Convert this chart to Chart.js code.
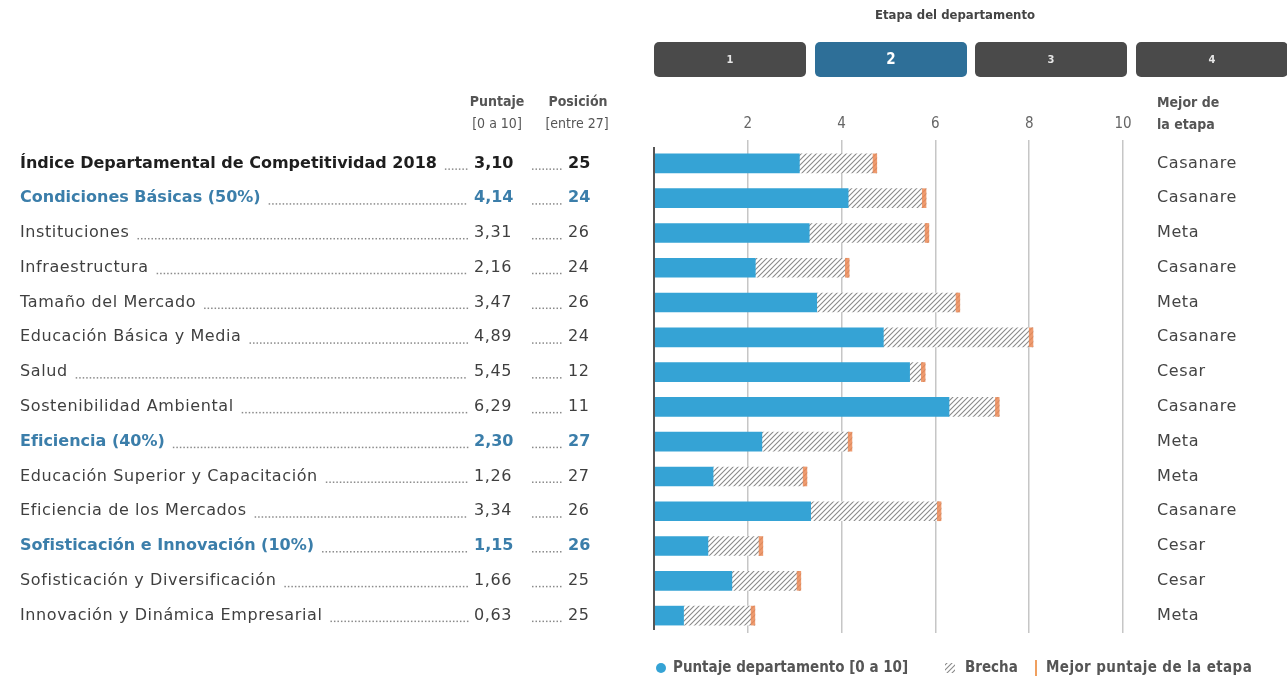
<!DOCTYPE html>
<html lang="es">
<head>
<meta charset="utf-8">
<title>Índice Departamental de Competitividad 2018</title>
<script src="https://cdn.jsdelivr.net/npm/chart.js@4.4.1/dist/chart.umd.min.js"></script>
<style>
  html, body { margin: 0; padding: 0; background: #fff; }
  #chartContainer { position: relative; width: 1287px; height: 685px; }
</style>
</head>
<body>
<div id="chartContainer"><canvas id="competitivenessChart"></canvas></div>
<script>
// Data
const pillarLabels = [
  'Índice Departamental de Competitividad 2018',
  'Condiciones Básicas (50%)',
  'Instituciones',
  'Infraestructura',
  'Tamaño del Mercado',
  'Educación Básica y Media',
  'Salud',
  'Sostenibilidad Ambiental',
  'Eficiencia (40%)',
  'Educación Superior y Capacitación',
  'Eficiencia de los Mercados',
  'Sofisticación e Innovación (10%)',
  'Sofisticación y Diversificación',
  'Innovación y Dinámica Empresarial'
];
const rowKind = ['index', 'pillar', 'sub', 'sub', 'sub', 'sub', 'sub', 'sub', 'pillar', 'sub', 'sub', 'pillar', 'sub', 'sub'];
const scores = [3.10, 4.14, 3.31, 2.16, 3.47, 4.89, 5.45, 6.29, 2.30, 1.26, 3.34, 1.15, 1.66, 0.63];
const ranks = [25, 24, 26, 24, 26, 24, 12, 11, 27, 27, 26, 26, 25, 25];
const bestScores = [4.75, 5.80, 5.86, 4.16, 6.52, 8.08, 5.78, 7.36, 4.22, 3.26, 6.12, 2.32, 3.13, 2.15];
const bestDept = ['Casanare', 'Casanare', 'Meta', 'Casanare', 'Meta', 'Casanare', 'Cesar', 'Casanare', 'Meta', 'Meta', 'Casanare', 'Cesar', 'Cesar', 'Meta'];
const stages = ['1', '2', '3', '4'];
const currentStage = '2';

const FONT = '"DejaVu Sans", sans-serif';
const FONT_COND = '"DejaVu Sans Condensed", "DejaVu Sans", sans-serif';
const BLUE = '#35a3d5';
const DARK_BLUE = '#3b7eaa';
const ORANGE = 'rgba(236, 138, 86, 0.85)';

function makeHatch() {
  const c = document.createElement('canvas');
  c.width = 5; c.height = 5;
  const g = c.getContext('2d');
  g.fillStyle = '#fff';
  g.fillRect(0, 0, 5, 5);
  g.strokeStyle = '#8a8a8a';
  g.lineWidth = 1.1;
  g.beginPath();
  g.moveTo(0, 5); g.lineTo(5, 0);
  g.moveTo(-1, 1); g.lineTo(1, -1);
  g.moveTo(4, 6); g.lineTo(6, 4);
  g.stroke();
  return g.createPattern(c, 'repeat');
}

function fmt(v) {
  return v.toFixed(2).replace('.', ',');
}

function dots(ctx, x0, x1, y, color) {
  ctx.fillStyle = color;
  for (let px = x0; px < x1; px += 3.5) ctx.fillRect(px, y, 1.5, 1.5);
}

const hatch = makeHatch();

// Everything that is not a bar: headers, table columns, stage buttons, legend
const decorPlugin = {
  id: 'decor',
  afterDatasetsDraw(chart) {
    const { ctx, chartArea, scales: { x } } = chart;
    const x0 = x.getPixelForValue(0);
    ctx.save();
    ctx.strokeStyle = '#555';
    ctx.lineWidth = 2;
    ctx.beginPath();
    ctx.moveTo(x0, chartArea.top + 1);
    ctx.lineTo(x0, chartArea.bottom - 3);
    ctx.stroke();
    ctx.restore();
  },
  afterDraw(chart) {
    const { ctx, scales: { y } } = chart;
    ctx.save();
    ctx.textBaseline = 'middle';

    // stage selector
    ctx.font = 'bold 13px ' + FONT_COND;
    ctx.fillStyle = '#444';
    ctx.textAlign = 'center';
    ctx.fillText('Etapa del departamento', 955, 16);
    const btnX = [654, 815, 975, 1136];
    stages.forEach((s, i) => {
      const active = s === currentStage;
      ctx.fillStyle = active ? '#2e6f98' : '#4a4a4a';
      ctx.beginPath();
      ctx.roundRect(btnX[i], 42, 152, 35, 5);
      ctx.fill();
      ctx.fillStyle = active ? '#fff' : '#e6e6e6';
      ctx.font = (active ? 'bold 15px ' : 'bold 11px ') + FONT_COND;
      ctx.fillText(s, btnX[i] + 76, 60);
    });

    // column headers
    ctx.fillStyle = '#555';
    ctx.font = 'bold 14px ' + FONT_COND;
    ctx.fillText('Puntaje', 497, 102);
    ctx.fillText('Posición', 578, 102);
    ctx.font = '14px ' + FONT_COND;
    ctx.fillText('[0 a 10]', 497, 124);
    ctx.fillText('[entre 27]', 577, 124);
    ctx.textAlign = 'left';
    ctx.font = 'bold 14px ' + FONT_COND;
    ctx.fillText('Mejor de', 1157, 103);
    ctx.fillText('la etapa', 1157, 125);

    // rows
    pillarLabels.forEach((label, i) => {
      const yy = y.getPixelForValue(i);
      const kind = rowKind[i];
      const color = kind === 'index' ? '#1e1e1e' : kind === 'pillar' ? DARK_BLUE : '#3f3f3f';
      if (kind === 'sub') {
        ctx.font = '16px ' + FONT;
        ctx.letterSpacing = '0.6px';
      } else {
        ctx.font = 'bold 16px ' + FONT;
        ctx.letterSpacing = '0px';
      }
      ctx.fillStyle = color;
      ctx.textAlign = 'left';
      ctx.fillText(label, 20, yy);
      const w = ctx.measureText(label).width;
      dots(ctx, 20 + w + 8, 467, yy + 5, '#8a8a8a');
      ctx.fillStyle = color;
      ctx.fillText(fmt(scores[i]), 474, yy);
      dots(ctx, 532, 563, yy + 5, '#8a8a8a');
      ctx.fillStyle = color;
      ctx.fillText(String(ranks[i]), 568, yy);
      ctx.font = '16px ' + FONT;
      ctx.letterSpacing = '0.6px';
      ctx.fillStyle = '#444';
      ctx.fillText(bestDept[i], 1157, yy);
    });
    ctx.letterSpacing = '0px';

    // legend
    const ly = 668;
    ctx.font = 'bold 15px ' + FONT_COND;
    ctx.fillStyle = BLUE;
    ctx.beginPath();
    ctx.arc(661, ly, 5, 0, Math.PI * 2);
    ctx.fill();
    ctx.fillStyle = '#555';
    ctx.fillText('Puntaje departamento [0 a 10]', 673, ly);
    ctx.fillStyle = hatch;
    ctx.fillRect(945, ly - 5, 10, 10);
    ctx.fillStyle = '#555';
    ctx.fillText('Brecha', 965, ly);
    ctx.strokeStyle = '#f0a060';
    ctx.lineWidth = 2;
    ctx.beginPath();
    ctx.moveTo(1036, ly - 8);
    ctx.lineTo(1036, ly + 8);
    ctx.stroke();
    ctx.letterSpacing = '0.4px';
    ctx.fillText('Mejor puntaje de la etapa', 1046, ly);
    ctx.restore();
  }
};

let competitivenessChart;

window.onload = function() {
  initializeChart();
};

function initializeChart() {
  const ctx = document.getElementById('competitivenessChart').getContext('2d');
  competitivenessChart = new Chart(ctx, {
    type: 'bar',
    data: {
      labels: pillarLabels,
      datasets: [
        {
          label: 'Mejor puntaje de la etapa',
          data: bestScores.map(v => [v - 0.08, v]),
          backgroundColor: ORANGE,
          grouped: false,
          barThickness: 19
        },
        {
          label: 'Puntaje departamento [0 a 10]',
          data: scores.map(v => [0, v]),
          backgroundColor: BLUE,
          grouped: false,
          barThickness: 19
        },
        {
          label: 'Brecha',
          data: scores.map((v, i) => [v, bestScores[i]]),
          backgroundColor: hatch,
          grouped: false,
          barThickness: 19
        }
      ]
    },
    options: {
      indexAxis: 'y',
      responsive: true,
      maintainAspectRatio: false,
      animation: false,
      layout: { padding: { left: 654, right: 164, top: 0, bottom: 52 } },
      plugins: {
        legend: { display: false },
        tooltip: { enabled: false }
      },
      scales: {
        x: {
          position: 'top',
          min: 0,
          max: 10,
          afterFit: s => { s.height = 146; },
          border: { display: false },
          grid: {
            color: c => (c.tick && c.tick.value === 0) ? 'rgba(0,0,0,0)' : '#c6c6c6',
            lineWidth: 1.5,
            tickLength: 6
          },
          ticks: {
            stepSize: 2,
            padding: 7,
            color: '#666',
            font: { family: FONT_COND, size: 15 },
            callback: v => v === 0 ? '' : v
          }
        },
        y: { display: false }
      }
    },
    plugins: [decorPlugin]
  });
}
</script>
</body>
</html>
